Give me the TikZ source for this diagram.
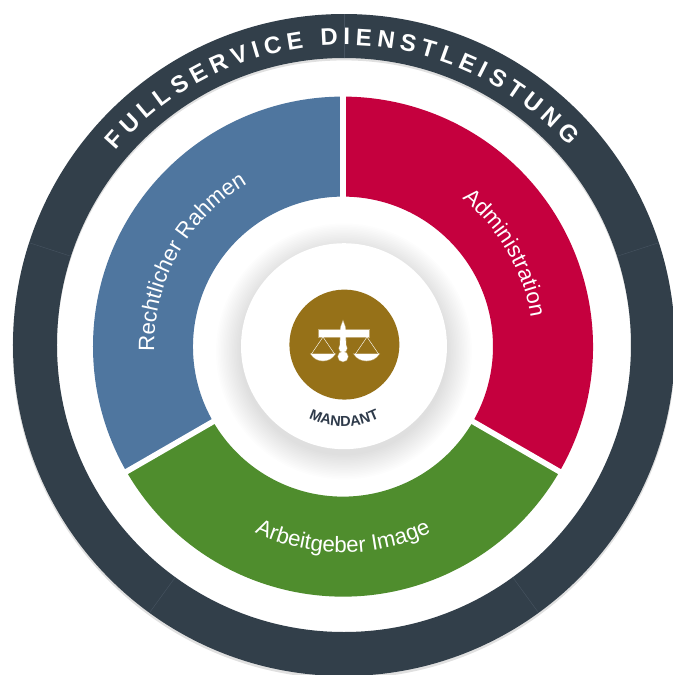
\documentclass[tikz,border=0pt]{standalone}
\usepackage{fontspec}
\setmainfont{Liberation Sans}
\usetikzlibrary{decorations.text}

\definecolor{ringcolor}{HTML}{323F4A}
\definecolor{seamcolor}{HTML}{465360}
\definecolor{rahmenblue}{HTML}{4F769F}
\definecolor{adminred}{HTML}{C5003E}
\definecolor{imagegreen}{HTML}{4F8D2D}
\definecolor{mandantgold}{HTML}{967118}
\definecolor{mandanttext}{HTML}{2E3A4A}

\tikzset{
  sectorlabel/.style={decorate, decoration={text along path, text align=center,
      text={|\fontsize{15.8}{19}\selectfont\color{white}|#1}}},
  ringlabel/.style={decorate, decoration={text along path, text align={fit to path},
      text={|\fontsize{17}{20}\selectfont\bfseries\color{white}|#1}}},
  mandantlabel/.style={decorate, decoration={text along path, text align=center,
      text={|\fontsize{10.3}{12}\selectfont\bfseries\color{mandanttext}|#1}}},
  separator/.style={white, line width=0.14cm},
  scalepart/.style={fill=white, draw=white, draw opacity=0.4, line width=0.8pt}
}

\begin{document}
\begin{tikzpicture}
\useasboundingbox (-8.6,-8.25) rectangle (8.225,8.625);
\fill[white] (-8.6,-8.25) rectangle (8.225,8.625);

% Outer ring with its shadow
\fill[black, opacity=0.12, even odd rule] (0,-0.06) circle (8.285) (0,-0.06) circle (7.175);
\fill[ringcolor, even odd rule] (0,0) circle (8.275) (0,0) circle (7.175);
\foreach \seamangle in {90,18,306,234,162}
  \draw[seamcolor, line width=0.3pt] (\seamangle:7.175) -- (\seamangle:8.275);

% Ring text
\path[ringlabel={FULLSERVICE DIENSTLEISTUNG}] (139.5:7.5) arc[start angle=139.5, end angle=41.5, radius=7.5];

% Three sectors
\begin{scope}[shift={(-0.025,-0.04)}]
\fill[rahmenblue] (90:6.25) arc[start angle=90, end angle=210, radius=6.25]
  -- (210:3.75) arc[start angle=210, end angle=90, radius=3.75] -- cycle;
\fill[imagegreen] (210:6.25) arc[start angle=210, end angle=330, radius=6.25]
  -- (330:3.75) arc[start angle=330, end angle=210, radius=3.75] -- cycle;
\fill[adminred] (330:6.25) arc[start angle=330, end angle=450, radius=6.25]
  -- (90:3.75) arc[start angle=90, end angle=-30, radius=3.75] -- cycle;
\foreach \gapangle in {90,210,330}
  \draw[separator] (\gapangle:3.7) -- (\gapangle:6.3);

% Sector text
\path[sectorlabel={Rechtlicher Rahmen}] (181:4.72) arc[start angle=181, end angle=121, radius=4.72];
\path[sectorlabel={Administration}] (60:4.75) arc[start angle=60, end angle=0, radius=4.75];
\path[sectorlabel={Arbeitgeber Image}] (240:5.15) arc[start angle=240, end angle=300, radius=5.15];
\end{scope}

% Centre circle
\foreach \shadowradius in {2.6,2.64,...,3.2}
  \fill[black, opacity=0.009] (0,-0.16) circle (\shadowradius);
\node[circle, fill=white, minimum size=5.15cm, inner sep=0pt] (mandantdisc) at (0,-0.03) {};
\node[circle, fill=mandantgold, minimum size=2.75cm, inner sep=0pt] (mandantcircle) at (0.01,0.01) {};
\path[mandantlabel={MANDANT}] (245:2.03) arc[start angle=245, end angle=295, radius=2.03];

% Scales
\path[scalepart] (-0.625,0.2) rectangle (0.625,0.375);
\path[scalepart] (-0.1,-0.05) -- (-0.08,0.45) -- (-0.025,0.6) -- (0.03,0.45) -- (0.05,-0.05) -- cycle;
\path[scalepart] (-0.025,-0.08) circle (0.1);
\path[scalepart] (-0.025,-0.29) circle (0.125);
\draw[white, line width=0.3pt] (-0.825,-0.24) -- (-0.525,0.2) -- (-0.225,-0.24);
\draw[white, line width=0.3pt] (0.275,-0.24) -- (0.575,0.2) -- (0.875,-0.24);
\path[scalepart] (-0.825,-0.225) .. controls (-0.7,-0.45) and (-0.35,-0.45) .. (-0.225,-0.225) -- cycle;
\path[scalepart] (0.25,-0.225) .. controls (0.375,-0.45) and (0.75,-0.45) .. (0.875,-0.225) -- cycle;

\end{tikzpicture}
\end{document}
